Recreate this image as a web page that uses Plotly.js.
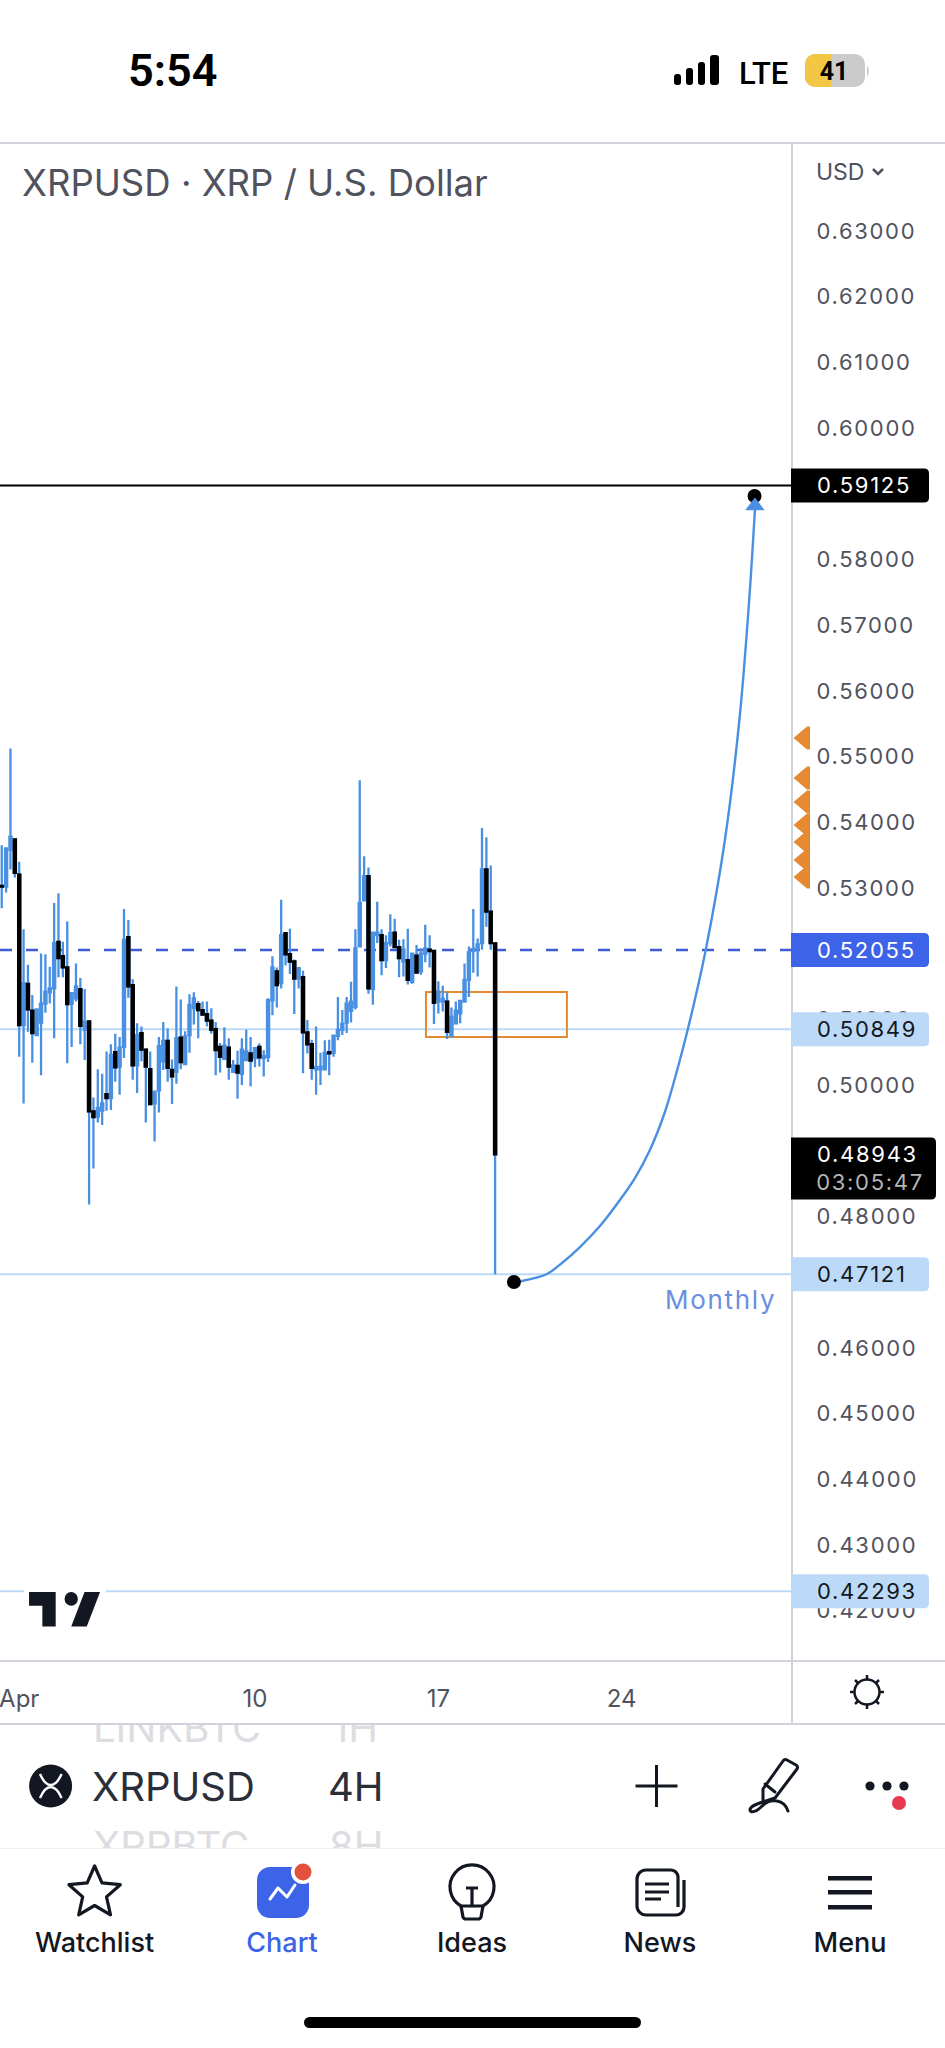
<!DOCTYPE html>
<html><head><meta charset="utf-8">
<script src="https://cdn.plot.ly/plotly-3.0.1.min.js"></script>
<style>
html,body{margin:0;padding:0;background:#fff;width:945px;height:2048px;overflow:hidden}
#chart{position:absolute;left:0;top:0;width:945px;height:2048px}
#chrome{position:absolute;left:0;top:0;pointer-events:none}
#chrome text{font-family:Inter,"Noto Sans",sans-serif}
#chart .ytick text,#chart .annotation-text{letter-spacing:1.7px}
</style></head><body>
<div id="chart"></div>
<svg id="chrome" width="945" height="2048" viewBox="0 0 945 2048">
  <defs>
    <clipPath id="clipTop"><rect x="0" y="1725" width="945" height="40"/></clipPath>
    <clipPath id="clipBot"><rect x="0" y="1810" width="945" height="38"/></clipPath>
  </defs>
  <!-- status bar -->
  <text x="128" y="86" font-size="45" font-weight="600" fill="#000" style="font-family:Roboto">5:54</text>
  <rect x="674" y="74" width="7" height="11" rx="3" fill="#000"/>
  <rect x="686" y="68" width="7" height="17" rx="3" fill="#000"/>
  <rect x="698" y="62" width="7" height="23" rx="3" fill="#000"/>
  <rect x="710" y="55" width="9" height="30" rx="3" fill="#000"/>
  <text x="739" y="84" font-size="31" font-weight="500" fill="#000" style="font-family:Roboto">LTE</text>
  <rect x="805" y="54" width="60" height="33" rx="10" fill="#cbcbcb"/>
  <path d="M831 54H815a10 10 0 0 0-10 10V77a10 10 0 0 0 10 10H831Z" fill="#f2c744"/>
  <path d="M867 65q4 6 0 12Z" fill="#cbcbcb"/>
  <text x="834" y="80" font-size="25" font-weight="700" fill="#000" text-anchor="middle" style="font-family:Roboto">41</text>
  <!-- pane header -->
  <text x="816" y="180" font-size="23" fill="#50535e">USD</text>
  <path d="M873 169l5 5 5-5" fill="none" stroke="#50535e" stroke-width="2.5"/>
  <!-- logo -->
  <rect x="24" y="1586" width="82" height="46" fill="#fff"/>
  <path transform="translate(24.6 1578.2) scale(2.22 2.3)" fill="#131722" d="M14 6H2v6h6v9h6V6Zm14 15h-7l6-15h7l-6 15Zm-7-9a3 3 0 1 0 0-6 3 3 0 0 0 0 6Z"/>
  <!-- settings icon -->
  <g fill="none" stroke="#131722" stroke-width="2.5">
    <circle cx="867" cy="1692" r="12.5"/>
    <path d="M867 1675v5M867 1704v5M850 1692h5M879 1692h5M855 1680l3 3M876 1701l3 3M855 1704l3-3M876 1683l3-3"/>
  </g>
  <!-- faded picker rows -->
  <g clip-path="url(#clipTop)" fill="#dcdde1" font-size="40">
    <text x="93" y="1742">LINKBTC</text><text x="332" y="1742">1H</text>
  </g>
  <g clip-path="url(#clipBot)" fill="#dcdde1" font-size="40">
    <text x="93" y="1860">XRPBTC</text><text x="329" y="1860">8H</text>
  </g>
  <!-- toolbar -->
  <circle cx="50.6" cy="1786" r="21.5" fill="#131722"/>
  <path d="M40 1774c4 9 8 11 10.600 11s7-2 11-11M40 1798c4-9 8-11 10.600-11s7 2 11 11" fill="none" stroke="#fff" stroke-width="2.4"/>
  <text x="92" y="1801" font-size="40" font-weight="400" fill="#2a2e39">XRPUSD</text>
  <text x="328" y="1801" font-size="40" font-weight="400" fill="#2a2e39">4H</text>
  <path d="M656.500 1765v42M635.500 1786h42" stroke="#131722" stroke-width="3" fill="none"/>
  <g fill="none" stroke="#131722" stroke-width="3" stroke-linejoin="round" stroke-linecap="round">
    <path d="M787 1760l9 5a3 3 0 0 1 1 4l-22 29-12 4 0-13 20-28a3 3 0 0 1 4-1Z"/>
    <path d="M765 1784l10 8"/>
    <path d="M763 1802c-10 3-13 5-13 8 0 3 6 2 10-2 5-5 9-8 17-7 6 1 9 4 11 10"/>
  </g>
  <circle cx="870" cy="1786" r="4.600" fill="#131722"/><circle cx="887" cy="1786" r="4.600" fill="#131722"/><circle cx="904" cy="1786" r="4.600" fill="#131722"/>
  <circle cx="899" cy="1803" r="7" fill="#e8394f"/>
  <rect x="0" y="1848" width="945" height="1" fill="#eeeff1"/>
  <!-- tab bar -->
  <polygon points="94.600,1866 102,1882.900 120.300,1884.700 106.500,1896.900 110.500,1914.800 94.600,1905.500 78.700,1914.800 82.700,1896.900 68.900,1884.700 87.200,1882.900" fill="none" stroke="#131722" stroke-width="3.200" stroke-linejoin="round"/>
  <rect x="257" y="1867" width="52" height="51" rx="13" fill="#3d63e8"/>
  <path d="M270 1899l8-11 9 9 8-12" fill="none" stroke="#fff" stroke-width="3" stroke-linejoin="round" stroke-linecap="round"/>
  <circle cx="303" cy="1872" r="12" fill="#fff"/><circle cx="303" cy="1872" r="8.500" fill="#e2513c"/>
  <g fill="none" stroke="#131722" stroke-width="3.200">
    <path d="M461 1906a22 22 0 1 1 22 0"/>
    <path d="M461 1906H483M461 1906l2 11a3 3 0 0 0 3 2h12a3 3 0 0 0 3-2l2-11"/>
    <path d="M466 1888h12M472 1888v17"/>
    <path d="M671 1870h-25a9 9 0 0 0-9 9v27a9 9 0 0 0 9 9h30a8 8 0 0 0 8-8v-27M671 1870a7 7 0 0 1 7 7v30"/>
    <path d="M645 1884h24M645 1892h24M645 1899h16"/>
  </g>
  <rect x="828" y="1876" width="44" height="4.500" fill="#131722"/>
  <rect x="828" y="1890" width="44" height="4.500" fill="#131722"/>
  <rect x="828" y="1905" width="44" height="4.500" fill="#131722"/>
  <g font-size="27" font-weight="500" text-anchor="middle" fill="#131722">
    <text x="94.600" y="1952">Watchlist</text>
    <text x="282" y="1952" fill="#3d63e8">Chart</text>
    <text x="472" y="1952">Ideas</text>
    <text x="660" y="1952">News</text>
    <text x="850" y="1952">Menu</text>
  </g>
  <rect x="304" y="2017" width="337" height="11" rx="5.500" fill="#000"/>
</svg>
<script>
// 4H candle times
const candleTimes = [
"2023-03-31 08:00","2023-03-31 12:00","2023-03-31 16:00","2023-03-31 20:00",
"2023-04-01 00:00","2023-04-01 04:00","2023-04-01 08:00","2023-04-01 12:00","2023-04-01 16:00","2023-04-01 20:00",
"2023-04-02 00:00","2023-04-02 04:00","2023-04-02 08:00","2023-04-02 12:00","2023-04-02 16:00","2023-04-02 20:00",
"2023-04-03 00:00","2023-04-03 04:00","2023-04-03 08:00","2023-04-03 12:00","2023-04-03 16:00","2023-04-03 20:00",
"2023-04-04 00:00","2023-04-04 04:00","2023-04-04 08:00","2023-04-04 12:00","2023-04-04 16:00","2023-04-04 20:00",
"2023-04-05 00:00","2023-04-05 04:00","2023-04-05 08:00","2023-04-05 12:00","2023-04-05 16:00","2023-04-05 20:00",
"2023-04-06 00:00","2023-04-06 04:00","2023-04-06 08:00","2023-04-06 12:00","2023-04-06 16:00","2023-04-06 20:00",
"2023-04-07 00:00","2023-04-07 04:00","2023-04-07 08:00","2023-04-07 12:00","2023-04-07 16:00","2023-04-07 20:00",
"2023-04-08 00:00","2023-04-08 04:00","2023-04-08 08:00","2023-04-08 12:00","2023-04-08 16:00","2023-04-08 20:00",
"2023-04-09 00:00","2023-04-09 04:00","2023-04-09 08:00","2023-04-09 12:00","2023-04-09 16:00","2023-04-09 20:00",
"2023-04-10 00:00","2023-04-10 04:00","2023-04-10 08:00","2023-04-10 12:00","2023-04-10 16:00","2023-04-10 20:00",
"2023-04-11 00:00","2023-04-11 04:00","2023-04-11 08:00","2023-04-11 12:00","2023-04-11 16:00","2023-04-11 20:00",
"2023-04-12 00:00","2023-04-12 04:00","2023-04-12 08:00","2023-04-12 12:00","2023-04-12 16:00","2023-04-12 20:00",
"2023-04-13 00:00","2023-04-13 04:00","2023-04-13 08:00","2023-04-13 12:00","2023-04-13 16:00","2023-04-13 20:00",
"2023-04-14 00:00","2023-04-14 04:00","2023-04-14 08:00","2023-04-14 12:00","2023-04-14 16:00","2023-04-14 20:00",
"2023-04-15 00:00","2023-04-15 04:00","2023-04-15 08:00","2023-04-15 12:00","2023-04-15 16:00","2023-04-15 20:00",
"2023-04-16 00:00","2023-04-16 04:00","2023-04-16 08:00","2023-04-16 12:00","2023-04-16 16:00","2023-04-16 20:00",
"2023-04-17 00:00","2023-04-17 04:00","2023-04-17 08:00","2023-04-17 12:00","2023-04-17 16:00","2023-04-17 20:00",
"2023-04-18 00:00","2023-04-18 04:00","2023-04-18 08:00","2023-04-18 12:00","2023-04-18 16:00","2023-04-18 20:00",
"2023-04-19 00:00","2023-04-19 04:00"];
const opens = [
.5303,.5302,.5358,.5374,.5320,.5091,.5154,.5113,.5076,.5095,
.5124,.5141,.5147,.5218,.5196,.5179,.5124,.5132,.5146,.5084,
.5097,.4960,.4952,.4961,.4986,.4980,.5050,.5028,.5058,.5225,
.5152,.5030,.5079,.5054,.5024,.4972,.4992,.5036,.5067,.5023,
.5020,.5072,.5032,.5076,.5117,.5123,.5114,.5108,.5098,.5085,
.5058,.5040,.5057,.5020,.5029,.5017,.5038,.5048,.5041,.5058,
.5041,.5043,.5129,.5173,.5155,.5231,.5199,.5188,.5162,.5164,
.5080,.5062,.5024,.5024,.5024,.5050,.5049,.5075,.5084,.5095,
.5113,.5119,.5211,.5281,.5318,.5146,.5228,.5228,.5190,.5216,
.5232,.5210,.5188,.5190,.5157,.5197,.5173,.5200,.5206,.5204,
.5127,.5127,.5127,.5074,.5094,.5109,.5127,.5160,.5204,.5207,
.5216,.5328,.5264,.52156];
const highs = [
.5365,.5360,.5512,.5374,.5340,.5237,.5183,.5137,.5115,.5200,
.5199,.5180,.5277,.5292,.5218,.5249,.5140,.5185,.5163,.5146,
.5097,.4981,.5024,.5017,.5051,.5062,.5078,.5073,.5268,.5251,
.5161,.5094,.5089,.5054,.5051,.4990,.5073,.5096,.5086,.5039,
.5150,.5130,.5082,.5138,.5141,.5128,.5127,.5127,.5117,.5096,
.5064,.5088,.5071,.5038,.5052,.5071,.5084,.5073,.5058,.5063,
.5053,.5132,.5196,.5179,.5282,.5231,.5238,.5191,.5179,.5174,
.5099,.5069,.5089,.5049,.5068,.5069,.5076,.5134,.5114,.5134,
.5157,.5237,.5464,.5348,.5331,.5232,.5279,.5237,.5228,.5260,
.5253,.5221,.5222,.5238,.5200,.5213,.5208,.5244,.5228,.5206,
.5158,.5151,.5141,.5118,.5127,.5129,.5185,.5211,.5268,.5223,
.5391,.5377,.5334,.52156];
const lows = [
.5269,.5293,.5328,.5316,.5043,.4972,.5081,.5034,.5076,.5015,
.5110,.5124,.5071,.5164,.5164,.5033,.5058,.5127,.5062,.5038,
.4818,.4873,.4943,.4939,.4961,.4962,.5005,.4985,.5041,.5133,
.5008,.4988,.5036,.4943,.4971,.4914,.4958,.5023,.5005,.4971,
.5002,.5024,.5032,.5049,.5092,.5071,.5107,.5089,.5078,.5015,
.5019,.5040,.5008,.5019,.4979,.5000,.5038,.4998,.5027,.5028,
.5013,.5035,.5106,.5118,.5147,.5182,.5169,.5108,.5147,.5018,
.5048,.5008,.4985,.5000,.5023,.5015,.5043,.5068,.5076,.5079,
.5095,.5115,.5211,.5281,.5139,.5122,.5216,.5167,.5178,.5211,
.5210,.5164,.5165,.5153,.5154,.5171,.5168,.5187,.5179,.5093,
.5109,.5112,.5070,.5074,.5094,.5094,.5127,.5134,.5171,.5165,
.5206,.5241,.5206,.47121];
const closes = [
.5302,.5360,.5378,.5323,.5091,.5155,.5115,.5079,.5115,.5124,
.5142,.5147,.5216,.5193,.5179,.5123,.5140,.5150,.5090,.5096,
.4960,.4951,.4965,.4972,.4980,.5046,.5027,.5057,.5221,.5150,
.5030,.5076,.5054,.5028,.4971,.4990,.5059,.5067,.5026,.5013,
.5071,.5035,.5074,.5122,.5132,.5114,.5107,.5098,.5084,.5053,
.5043,.5060,.5028,.5030,.5019,.5054,.5051,.5037,.5056,.5042,
.5044,.5129,.5179,.5152,.5228,.5199,.5188,.5162,.5178,.5080,
.5062,.5026,.5027,.5028,.5049,.5048,.5075,.5084,.5093,.5124,
.5127,.5208,.5277,.5318,.5147,.5232,.5232,.5190,.5216,.5231,
.5210,.5193,.5206,.5160,.5200,.5171,.5200,.5208,.5204,.5125,
.5142,.5131,.5081,.5104,.5113,.5128,.5160,.5202,.5207,.5214,
.5328,.5264,.5216,.48943];
// drawn forecast curve
const curveTimes = ["2023-04-19 21:14","2023-04-20 04:35","2023-04-21 03:29","2023-04-21 17:14","2023-04-22 09:43","2023-04-23 04:02","2023-04-23 22:21","2023-04-24 12:06","2023-04-25 01:49","2023-04-25 15:34","2023-04-26 05:18","2023-04-26 17:14","2023-04-27 05:08","2023-04-27 22:32","2023-04-28 12:16","2023-04-28 21:26","2023-04-29 02:01"];
const curvePrices = [.47002,.47017,.47123,.47291,.47534,.47854,.48250,.48584,.49011,.49589,.50381,.51172,.52070,.53729,.55632,.57534,.58752];
const curveStart = ["2023-04-19 21:14", .47002];
const curveEnd = ["2023-04-29 01:41", .58965];
const arrowTip = ["2023-04-29 02:01", .58813];
// price levels and labels
const targetLevel = 0.59125, prevCloseLevel = 0.52055, lastPrice = 0.48943;
const lightLevels = [0.50849, 0.47121, 0.42293];
const countdown = "03:05:47";
const priceTicks = [.63,.62,.61,.60,.59,.58,.57,.56,.55,.54,.53,.52,.51,.50,.49,.48,.47,.46,.45,.44,.43,.42];
const alertPrices = [.55282,.54673,.54307,.53957,.53699,.53425,.53166];
const timeTicks = ["2023-04-01","2023-04-10","2023-04-17","2023-04-24"];
const timeLabels = ["Apr","10","17","24"];
const zone = {x0:"2023-04-16 12:40", x1:"2023-04-21 21:48", y0:.50731, y1:.51416};

const BLUE="#4a90e2", LIGHT="#bcdaf7", ROYAL="#3d63e8", ORANGE="#e58a33", GRID="#d0d3da", TXT="#50535e";
const FONT="Inter, 'Noto Sans', sans-serif";
const W=945,H=2048,PL=792,PT=143,PB=1661;
const px2paperX=x=>x/PL, px2paperY=y=>1-(y-PT)/(PB-PT);

const down = candleTimes.map((_,i)=>i).filter(i=>closes[i]<opens[i]);
const traces = [
 {type:"candlestick",x:candleTimes,open:opens,high:highs,low:lows,close:closes,
  increasing:{line:{color:BLUE,width:2.3},fillcolor:BLUE},decreasing:{line:{color:BLUE,width:2.3},fillcolor:BLUE},
  whiskerwidth:0,hoverinfo:"skip",showlegend:false},
 {type:"candlestick",x:down.map(i=>candleTimes[i]),open:down.map(i=>opens[i]),high:down.map(i=>opens[i]),low:down.map(i=>closes[i]),close:down.map(i=>closes[i]),
  increasing:{line:{color:"#000",width:2.3},fillcolor:"#000"},decreasing:{line:{color:"#000",width:2.3},fillcolor:"#000"},
  whiskerwidth:0,hoverinfo:"skip",showlegend:false},
 {type:"scatter",mode:"lines",x:curveTimes,y:curvePrices,line:{color:BLUE,width:2.4,shape:"spline",smoothing:0.7},hoverinfo:"skip",showlegend:false},
 {type:"scatter",mode:"markers",x:[curveStart[0],curveEnd[0]],y:[curveStart[1],curveEnd[1]],marker:{color:"#000",size:14},hoverinfo:"skip",showlegend:false},
 {type:"scatter",mode:"markers",x:[arrowTip[0]],y:[arrowTip[1]],marker:{color:BLUE,size:17,symbol:"triangle-up"},hoverinfo:"skip",showlegend:false}
];

const hline=(y,color,dash,w)=>({type:"line",layer:"below",xref:"paper",yref:"y",x0:0,x1:1,y0:y,y1:y,line:{color,width:w||2,dash:dash||"solid"}});
const tag=(y,color,w,up,dn)=>({type:"path",layer:"above",xref:"paper",yref:"y",xsizemode:"pixel",ysizemode:"pixel",xanchor:1,yanchor:y,
  path:`M -1 ${up} H ${w-5} Q ${w} ${up} ${w} ${up-5} V ${dn+5} Q ${w} ${dn} ${w-5} ${dn} H -1 Z`,fillcolor:color,line:{width:0}});
const alertMark=y=>({type:"path",layer:"above",xref:"paper",yref:"y",xsizemode:"pixel",ysizemode:"pixel",xanchor:1,yanchor:y,
  path:"M 1.5 0 L 15 11.5 L 18 11.5 L 18 -11.5 L 15 -11.5 Z",fillcolor:ORANGE,line:{width:0}});
const chromeLine=(x0,y0,x1,y1)=>({type:"line",layer:"above",xref:"paper",yref:"paper",x0:px2paperX(x0),x1:px2paperX(x1),y0:px2paperY(y0),y1:px2paperY(y1),line:{color:GRID,width:2}});

const shapes=[
 hline(targetLevel,"#000"),
 hline(prevCloseLevel,"#3f5bd8","12px,14px",2.6),
 ...lightLevels.map(v=>hline(v,LIGHT)),
 {type:"rect",layer:"below",xref:"x",yref:"y",x0:zone.x0,x1:zone.x1,y0:zone.y0,y1:zone.y1,line:{color:ORANGE,width:2},fillcolor:"rgba(0,0,0,0)"},
 chromeLine(0,143,W,143), chromeLine(0,1661,W,1661), chromeLine(0,1724,W,1724), chromeLine(792,143,792,1724),
 ...alertPrices.map(alertMark),
 tag(targetLevel,"#000",137,17,-17),
 tag(prevCloseLevel,ROYAL,137,17,-17),
 ...lightLevels.map(v=>tag(v,LIGHT,137,17,-17)),
 tag(lastPrice,"#000",144,17,-45)
];
const priceAnn=(y,color,text,shift)=>({xref:"paper",yref:"y",x:821/PL,y,xanchor:"left",yanchor:"middle",yshift:shift||0,showarrow:false,text:text||y.toFixed(5),font:{family:FONT,size:22,color}});
const annotations=[
 priceAnn(targetLevel,"#fff"),priceAnn(prevCloseLevel,"#fff"),
 ...lightLevels.map(v=>priceAnn(v,"#131722")),
 priceAnn(lastPrice,"#fff"),priceAnn(lastPrice,"#b5b5b5",countdown,-28),
 {xref:"paper",yref:"y",x:772/PL,y:.46728,xanchor:"right",yanchor:"middle",showarrow:false,text:"Monthly",font:{family:FONT,size:26,color:"#6b8fe0"}}
];
const layout={
 width:W,height:H,autosize:false,paper_bgcolor:"#fff",plot_bgcolor:"#fff",showlegend:false,hovermode:false,dragmode:false,
 margin:{l:0,r:W-PL,t:PT,b:H-PB,pad:0},
 title:{text:"XRPUSD · XRP / U.S. Dollar",x:22/W,xanchor:"left",xref:"container",y:1-183/H,yanchor:"middle",yref:"container",font:{family:FONT,size:36.5,color:TXT}},
 xaxis:{type:"date",range:["2023-03-31 06:24","2023-04-30 12:00"],rangeslider:{visible:false},showgrid:false,zeroline:false,showline:false,
   tickmode:"array",tickvals:timeTicks,ticktext:timeLabels,ticks:"outside",ticklen:16,tickcolor:"rgba(0,0,0,0)",ticklabeloverflow:"allow",tickfont:{family:FONT,size:24,color:TXT}},
 yaxis:{side:"right",range:[0.41233,0.64338],showgrid:false,zeroline:false,showline:false,
   tickmode:"array",tickvals:priceTicks,ticktext:priceTicks.map(v=>v.toFixed(5)),ticks:"outside",ticklen:19,tickcolor:"rgba(0,0,0,0)",tickfont:{family:FONT,size:22,color:TXT}},
 shapes,annotations
};
Plotly.newPlot("chart",traces,layout,{displayModeBar:false,staticPlot:true,responsive:false});
</script>
</body></html>
